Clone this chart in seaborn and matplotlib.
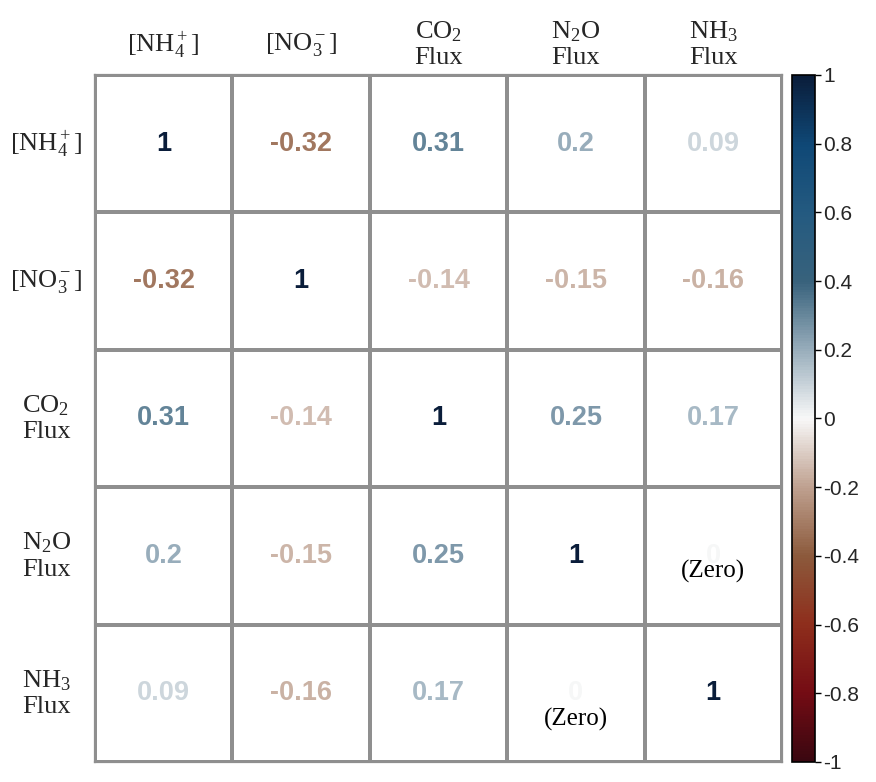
import matplotlib
matplotlib.use("Agg")
import matplotlib.pyplot as plt
import numpy as np
import pandas as pd
import seaborn as sns
from matplotlib.colors import LinearSegmentedColormap, Normalize

# variables in the correlation matrix
var_labels = [
    "[NH$_4^+$]",
    "[NO$_3^-$]",
    "CO$_2$\nFlux",
    "N$_2$O\nFlux",
    "NH$_3$\nFlux",
]

corr_values = [
    [1.00, -0.32, 0.31, 0.20, 0.09],
    [-0.32, 1.00, -0.14, -0.15, -0.16],
    [0.31, -0.14, 1.00, 0.25, 0.17],
    [0.20, -0.15, 0.25, 1.00, 0.00],
    [0.09, -0.16, 0.17, 0.00, 1.00],
]

cell_text = [
    ["1", "-0.32", "0.31", "0.2", "0.09"],
    ["-0.32", "1", "-0.14", "-0.15", "-0.16"],
    ["0.31", "-0.14", "1", "0.25", "0.17"],
    ["0.2", "-0.15", "0.25", "1", "0"],
    ["0.09", "-0.16", "0.17", "0", "1"],
]

# cells flagged with a "(Zero)" note: (row, col)
zero_cells = [(3, 4), (4, 3)]

cbar_ticks = [-1, -0.8, -0.6, -0.4, -0.2, 0, 0.2, 0.4, 0.6, 0.8, 1]
cbar_ticklabels = ["-1", "-0.8", "-0.6", "-0.4", "-0.2", "0", "0.2", "0.4", "0.6", "0.8", "1"]

# muted red-blue palette as it appears in the picture
palette_colors = [
    "#3a0710", "#740c14", "#8e2e1c", "#8c5a3c", "#bfa190",
    "#f8f8f8",
    "#98adbb", "#38627c", "#245a80", "#0f4876", "#0a1d3a",
]

sns.set_style("white")
plt.rcParams["font.family"] = ["Liberation Serif", "DejaVu Serif"]
plt.rcParams["mathtext.fontset"] = "custom"
plt.rcParams["mathtext.rm"] = "Liberation Serif"
plt.rcParams["mathtext.it"] = "Liberation Serif"

cmap = LinearSegmentedColormap.from_list("muted_rdbu", palette_colors)
norm = Normalize(vmin=-1, vmax=1)

df = pd.DataFrame(corr_values, index=var_labels, columns=var_labels)

fig = plt.figure(figsize=(8.76, 7.82), dpi=100)
ax = fig.add_axes([0.1084, 0.0256, 0.7843, 0.8785])
cax = fig.add_axes([0.9041, 0.0256, 0.0263, 0.8785])

sns.heatmap(
    df,
    ax=ax,
    cbar_ax=cax,
    cmap=cmap,
    vmin=-1,
    vmax=1,
    annot=np.array(cell_text),
    fmt="",
    linewidths=1.6,
    linecolor="#8f8f8f",
    annot_kws={"fontsize": 19.5, "fontweight": "bold", "family": "Liberation Sans"},
)

# white cells, only numbers carry the colour
mesh = ax.collections[0]
mesh.set_array(None)
mesh.set_facecolor("white")

flat_vals = np.array(corr_values).ravel()
for txt, v in zip(ax.texts, flat_vals):
    txt.set_color(cmap(norm(v)))

for r, c in zero_cells:
    dy = 0.11 if r < c else 0.19
    ax.text(c + 0.5, r + 0.5 + dy, "(Zero)", ha="center", va="center",
            fontsize=18, color="black", family="Liberation Serif")

# outer frame
for side in ["top", "bottom", "left", "right"]:
    ax.spines[side].set_visible(True)
    ax.spines[side].set_color("#8f8f8f")
    ax.spines[side].set_linewidth(1.6)

ax.xaxis.tick_top()
ax.set_xlabel("")
ax.set_ylabel("")
ax.tick_params(axis="both", length=0)
ax.tick_params(axis="x", pad=22)
ax.tick_params(axis="y", pad=35)
for lbl in ax.get_xticklabels():
    lbl.set_rotation(0)
    lbl.set_fontsize(19)
    lbl.set_va("center")
    lbl.set_ha("center")
    lbl.set_multialignment("center")
for lbl in ax.get_yticklabels():
    lbl.set_rotation(0)
    lbl.set_fontsize(19)
    lbl.set_va("center")
    lbl.set_ha("center")
    lbl.set_multialignment("left")

cbar = mesh.colorbar
cbar.set_ticks(cbar_ticks)
cbar.set_ticklabels(cbar_ticklabels)
cbar.outline.set_visible(True)
cbar.outline.set_edgecolor("black")
cbar.outline.set_linewidth(1.2)
cax.tick_params(length=4, width=1, color="black", pad=2, labelsize=15)
for lbl in cax.get_yticklabels():
    lbl.set_family("Liberation Sans")

fig.savefig("out.png", dpi=100, facecolor="white")
